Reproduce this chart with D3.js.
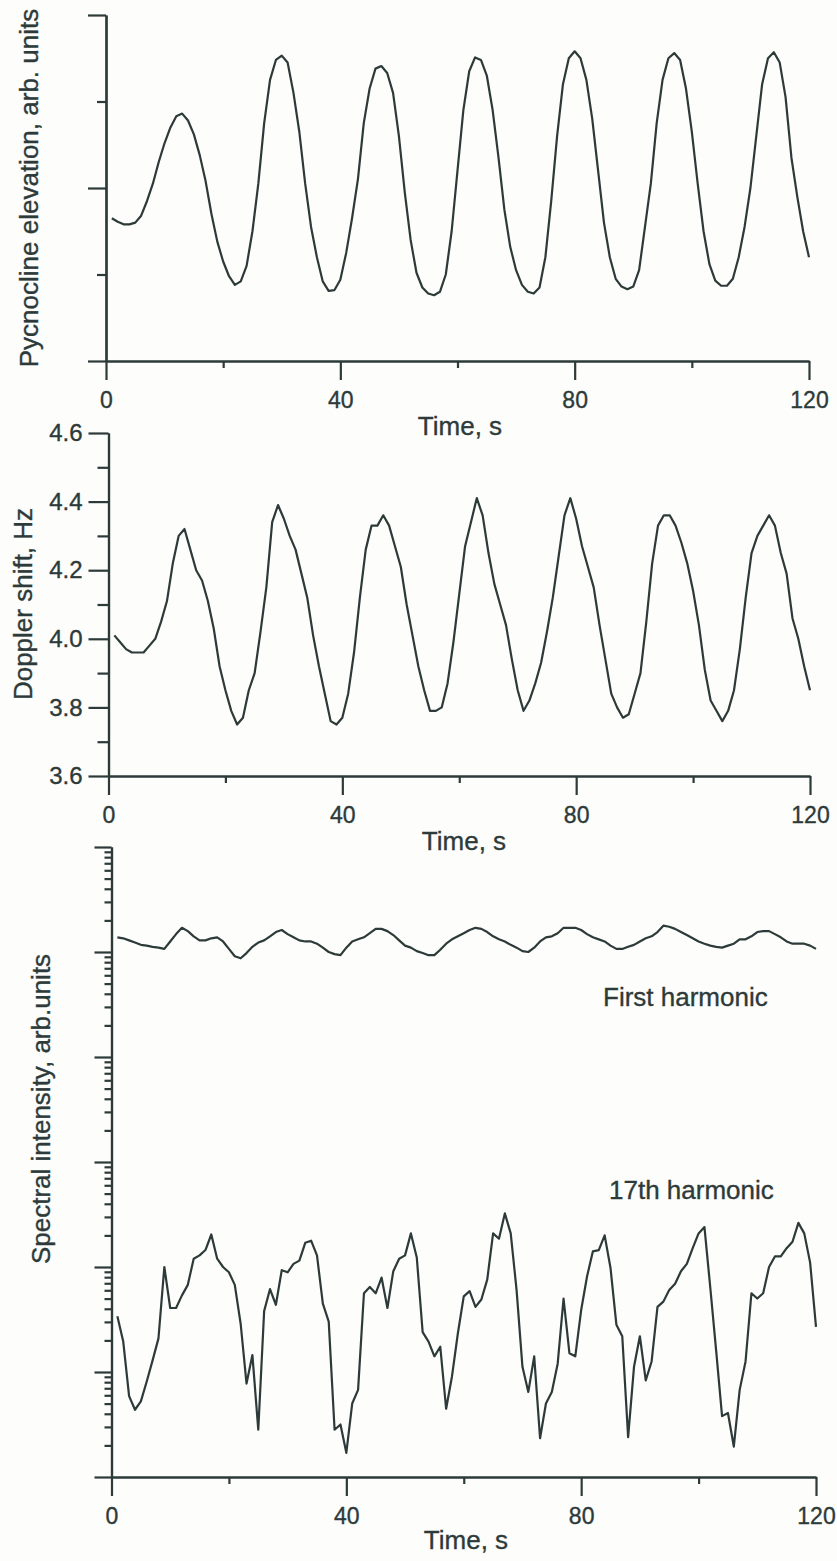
<!DOCTYPE html>
<html>
<head>
<meta charset="utf-8">
<script src="https://cdn.jsdelivr.net/npm/d3@7"></script>
<style>
  html, body { margin: 0; padding: 0; background: #fdfdfb; }
  svg { display: block; }
  text { font-family: "Liberation Sans", Arial, Helvetica, sans-serif; fill: #2d3a3a;
         stroke: #2d3a3a; stroke-width: 0.35px; }
  .axis path, .axis line { stroke: #2d3a3a; stroke-width: 2.2; }
  .axis .tick text { font-size: 23px; }
  .yaxis .tick text { font-size: 24px; }
  .title { font-size: 26px; }
  .note { font-size: 26px; }
  .trace { fill: none; stroke: #2d3a3a; stroke-width: 2.2; stroke-linejoin: round; }
</style>
</head>
<body>
<svg id="fig" width="837" height="1561"></svg>
<script>
// Sample times, s
const seconds = d3.range(1, 121);

// Pycnocline elevation, arb. units
const pycnocline = [
  1.65, 1.61, 1.58, 1.58, 1.60, 1.68, 1.85, 2.05, 2.30, 2.52,
  2.70, 2.83, 2.86, 2.78, 2.62, 2.38, 2.08, 1.70, 1.38, 1.15,
  0.98, 0.88, 0.92, 1.10, 1.50, 2.05, 2.75, 3.25, 3.48, 3.53,
  3.45, 3.10, 2.65, 2.05, 1.55, 1.20, 0.92, 0.81, 0.82, 0.94,
  1.25, 1.65, 2.10, 2.75, 3.15, 3.38, 3.41, 3.33, 3.10, 2.60,
  1.95, 1.40, 1.02, 0.85, 0.78, 0.76, 0.80, 1.00, 1.50, 2.20,
  2.90, 3.35, 3.51, 3.48, 3.30, 2.90, 2.35, 1.75, 1.32, 1.05,
  0.88, 0.80, 0.78, 0.85, 1.20, 1.85, 2.60, 3.20, 3.50, 3.58,
  3.50, 3.25, 2.80, 2.20, 1.60, 1.20, 0.95, 0.86, 0.83, 0.86,
  1.05, 1.55, 2.05, 2.75, 3.25, 3.50, 3.56, 3.48, 3.15, 2.65,
  2.05, 1.50, 1.12, 0.93, 0.87, 0.87, 0.95, 1.20, 1.55, 2.00,
  2.60, 3.20, 3.50, 3.57, 3.45, 3.05, 2.35, 1.90, 1.50, 1.20
];

// Doppler shift, Hz
const doppler = [
  4.01, 3.99, 3.97, 3.96, 3.96, 3.96, 3.98, 4.00, 4.05, 4.11,
  4.22, 4.30, 4.32, 4.26, 4.20, 4.17, 4.11, 4.03, 3.92, 3.85,
  3.79, 3.75, 3.77, 3.85, 3.90, 4.02, 4.15, 4.34, 4.39, 4.35,
  4.30, 4.26, 4.19, 4.12, 4.01, 3.92, 3.84, 3.76, 3.75, 3.77,
  3.84, 3.96, 4.12, 4.26, 4.33, 4.33, 4.36, 4.33, 4.27, 4.21,
  4.10, 4.01, 3.92, 3.85, 3.79, 3.79, 3.80, 3.87, 3.99, 4.13,
  4.27, 4.34, 4.41, 4.36, 4.25, 4.16, 4.10, 4.04, 3.94, 3.85,
  3.79, 3.82, 3.87, 3.93, 4.02, 4.12, 4.24, 4.36, 4.41, 4.35,
  4.27, 4.21, 4.15, 4.04, 3.94, 3.84, 3.80, 3.77, 3.78, 3.84,
  3.90, 4.05, 4.22, 4.33, 4.36, 4.36, 4.33, 4.28, 4.22, 4.14,
  4.04, 3.91, 3.82, 3.79, 3.76, 3.79, 3.85, 3.97, 4.12, 4.25,
  4.30, 4.33, 4.36, 4.33, 4.25, 4.19, 4.06, 4.00, 3.92, 3.85
];

// Spectral intensity of the first harmonic, arb. units
const firstHarmonic = [
  138000, 135000, 129000, 123000, 117000, 115000, 112000, 110000, 107000, 126000,
  148000, 170000, 158000, 141000, 129000, 129000, 135000, 138000, 126000, 107000,
  91200, 87100, 97700, 112000, 123000, 129000, 141000, 155000, 162000, 148000,
  138000, 129000, 126000, 126000, 120000, 110000, 100000, 95500, 93300, 110000,
  126000, 132000, 138000, 151000, 166000, 166000, 158000, 145000, 129000, 115000,
  110000, 102000, 97700, 93300, 93300, 105000, 120000, 132000, 141000, 151000,
  162000, 170000, 166000, 155000, 141000, 132000, 126000, 117000, 110000, 102000,
  100000, 110000, 126000, 138000, 141000, 151000, 170000, 170000, 170000, 162000,
  148000, 138000, 132000, 126000, 115000, 107000, 107000, 112000, 117000, 126000,
  135000, 141000, 155000, 178000, 174000, 166000, 155000, 145000, 135000, 126000,
  120000, 115000, 112000, 110000, 115000, 120000, 132000, 132000, 141000, 155000,
  158000, 158000, 148000, 138000, 126000, 120000, 120000, 120000, 115000, 107000
];

// Spectral intensity of the 17th harmonic, arb. units
const harmonic17 = [
  33.9, 19.5, 5.89, 4.37, 5.25, 8.13, 12.9, 20.9, 100, 40.7,
  40.7, 53.7, 67.6, 120, 129, 145, 204, 120, 100, 89.1,
  67.6, 28.8, 7.76, 14.5, 2.82, 38.0, 61.7, 43.7, 93.3, 89.1,
  107, 115, 170, 178, 129, 44.7, 30.2, 2.82, 3.16, 1.70,
  5.01, 6.76, 56.2, 64.6, 56.2, 79.4, 40.7, 91.2, 120, 129,
  209, 123, 24.0, 19.5, 14.1, 17.4, 4.47, 9.12, 23.4, 52.5,
  58.9, 41.7, 49.0, 75.9, 209, 186, 324, 209, 60.3, 11.2,
  6.46, 14.1, 2.34, 5.01, 6.46, 12.0, 50.1, 15.1, 14.1, 38.9,
  81.3, 141, 145, 200, 97.7, 28.2, 21.9, 2.40, 11.2, 21.9,
  8.32, 12.6, 41.7, 46.8, 60.3, 69.2, 91.2, 107, 151, 209,
  240, 63.1, 15.8, 3.80, 4.07, 1.95, 6.76, 12.6, 56.2, 50.1,
  56.2, 100, 126, 126, 151, 174, 263, 209, 110, 26.9
];

// Axis tick values
const timeMajor = [0, 40, 80, 120];
const timeMinor = [20, 60, 100];
const elevationMajor = [0, 2, 4];
const elevationMinor = [1, 3];
const dopplerMajor = [3.6, 3.8, 4.0, 4.2, 4.4, 4.6];
const dopplerMinor = [3.7, 3.9, 4.1, 4.3, 4.5];

const svg = d3.select("#fig");

function timeAxis(x, yPos) {
  svg.append("g").attr("class", "axis").attr("transform", `translate(0,${yPos})`)
    .call(d3.axisBottom(x).tickValues(timeMajor).tickSize(19).tickPadding(12)
      .tickSizeOuter(0).tickFormat(d3.format("d")));
  svg.append("g").attr("class", "axis").attr("transform", `translate(0,${yPos})`)
    .call(d3.axisBottom(x).tickValues(timeMinor).tickSize(7)
      .tickSizeOuter(0).tickFormat(""));
}

function valueAxis(y, xPos, major, minor, majorLen, minorLen, fmt) {
  svg.append("g").attr("class", "axis yaxis").attr("transform", `translate(${xPos},0)`)
    .call(d3.axisLeft(y).tickValues(major).tickSize(majorLen).tickPadding(6)
      .tickSizeOuter(0).tickFormat(fmt));
  svg.append("g").attr("class", "axis yaxis").attr("transform", `translate(${xPos},0)`)
    .call(d3.axisLeft(y).tickValues(minor).tickSize(minorLen)
      .tickSizeOuter(0).tickFormat(""));
}

function titles(xLabel, yLabel) {
  svg.append("text").attr("class", "title").attr("text-anchor", "middle")
    .attr("x", xLabel.x).attr("y", xLabel.y).text("Time, s");
  svg.append("text").attr("class", "title").attr("text-anchor", "middle")
    .attr("transform", `translate(${yLabel.x},${yLabel.y}) rotate(-90)`)
    .text(yLabel.text);
}

function trace(values, x, y) {
  svg.append("path").attr("class", "trace")
    .attr("d", d3.line().x((d, i) => x(seconds[i])).y(d => y(d))(values));
}

// Panel 1: pycnocline elevation
{
  const x = d3.scaleLinear().domain([0, 120]).range([106, 809]);
  const y = d3.scaleLinear().domain([0, 4]).range([361, 15]);
  valueAxis(y, 106, elevationMajor, elevationMinor, 18, 9, "");
  timeAxis(x, 361);
  trace(pycnocline, x, y);
  titles({ x: 460, y: 435 }, { x: 38, y: 188, text: "Pycnocline elevation, arb. units" });
}

// Panel 2: Doppler shift
{
  const x = d3.scaleLinear().domain([0, 120]).range([108.5, 810]);
  const y = d3.scaleLinear().domain([3.6, 4.6]).range([776, 433]);
  valueAxis(y, 108.5, dopplerMajor, dopplerMinor, 20, 11, d3.format(".1f"));
  timeAxis(x, 776);
  trace(doppler, x, y);
  titles({ x: 464, y: 850 }, { x: 32, y: 604, text: "Doppler shift, Hz" });
}

// Panel 3: spectral intensity of two harmonics, log scale
{
  const x = d3.scaleLinear().domain([0, 120]).range([111.5, 816]);
  const y = d3.scaleLog().domain([1, 1e6]).range([1477, 847]);
  const all = y.ticks();
  const decades = all.filter(v => Math.abs(Math.log10(v) - Math.round(Math.log10(v))) < 1e-9);
  const minor = all.filter(v => !decades.includes(v));
  valueAxis(y, 111.5, decades, minor, 17, 7, "");
  timeAxis(x, 1477);
  trace(firstHarmonic, x, y);
  trace(harmonic17, x, y);
  titles({ x: 466, y: 1549 }, { x: 50, y: 1109, text: "Spectral intensity, arb.units" });
  svg.append("text").attr("class", "note").attr("x", 603).attr("y", 1006).text("First harmonic");
  svg.append("text").attr("class", "note").attr("x", 609).attr("y", 1199).text("17th harmonic");
}
</script>
</body>
</html>
